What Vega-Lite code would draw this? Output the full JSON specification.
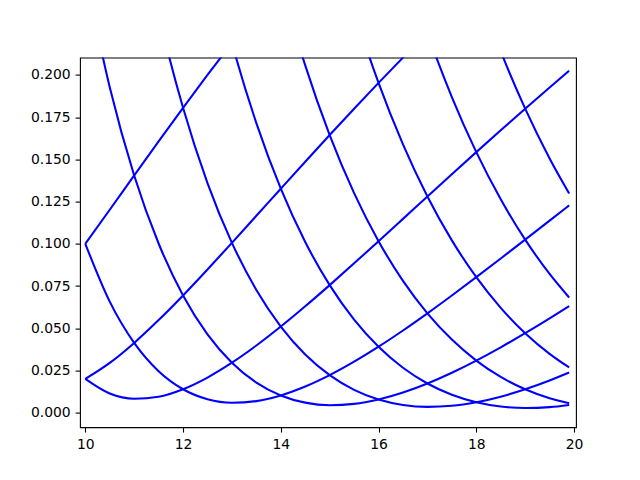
{
  "$schema": "https://vega.github.io/schema/vega-lite/v6.json",
  "width": 496,
  "height": 369.6,
  "autosize": {"type": "none"},
  "padding": {"left": 80, "top": 57.6, "right": 64, "bottom": 52.8},
  "background": "white",
  "config": {
    "view": {"stroke": "black", "strokeWidth": 1.1},
    "axis": {
      "domain": false,
      "grid": false,
      "ticks": true,
      "tickColor": "black",
      "tickSize": 4.9,
      "tickWidth": 1.1,
      "labelFont": "DejaVu Sans",
      "labelFontSize": 13.9,
      "labelColor": "black",
      "labelPadding": 4.9,
      "title": null
    }
  },
  "data": {
    "values": [
      {"c": 7, "x": 10, "y": 0.1}, {"c": 7, "x": 10.5, "y": 0.12018}, {"c": 7, "x": 11, "y": 0.1405}, {"c": 7, "x": 11.5, "y": 0.16068}, {"c": 7, "x": 12, "y": 0.18056}, {"c": 7, "x": 12.5, "y": 0.2}, {"c": 7, "x": 13, "y": 0.21893}, {"c": 7, "x": 13.5, "y": 0.23731},
      {"c": 9, "x": 10, "y": 0.02}, {"c": 9, "x": 10.5, "y": 0.02948}, {"c": 9, "x": 11, "y": 0.04132}, {"c": 9, "x": 11.5, "y": 0.05482}, {"c": 9, "x": 12, "y": 0.06944}, {"c": 9, "x": 12.5, "y": 0.0848}, {"c": 9, "x": 13, "y": 0.10059}, {"c": 9, "x": 13.5, "y": 0.1166}, {"c": 9, "x": 14, "y": 0.13265}, {"c": 9, "x": 14.5, "y": 0.14863}, {"c": 9, "x": 15, "y": 0.16444}, {"c": 9, "x": 15.5, "y": 0.18002}, {"c": 9, "x": 16, "y": 0.19531}, {"c": 9, "x": 16.5, "y": 0.21028}, {"c": 9, "x": 17, "y": 0.22491},
      {"c": 11, "x": 10, "y": 0.02}, {"c": 11, "x": 10.5, "y": 0.01134}, {"c": 11, "x": 11, "y": 0.00826}, {"c": 11, "x": 11.5, "y": 0.00945}, {"c": 11, "x": 12, "y": 0.01389}, {"c": 11, "x": 12.5, "y": 0.0208}, {"c": 11, "x": 13, "y": 0.02959}, {"c": 11, "x": 13.5, "y": 0.03978}, {"c": 11, "x": 14, "y": 0.05102}, {"c": 11, "x": 14.5, "y": 0.06302}, {"c": 11, "x": 15, "y": 0.07556}, {"c": 11, "x": 15.5, "y": 0.08845}, {"c": 11, "x": 16, "y": 0.10156}, {"c": 11, "x": 16.5, "y": 0.11478}, {"c": 11, "x": 17, "y": 0.12803}, {"c": 11, "x": 17.5, "y": 0.14122}, {"c": 11, "x": 18, "y": 0.15432}, {"c": 11, "x": 18.5, "y": 0.16728}, {"c": 11, "x": 19, "y": 0.18006}, {"c": 11, "x": 19.5, "y": 0.19264}, {"c": 11, "x": 19.9, "y": 0.20255},
      {"c": 13, "x": 10, "y": 0.1}, {"c": 13, "x": 10.5, "y": 0.06576}, {"c": 13, "x": 11, "y": 0.04132}, {"c": 13, "x": 11.5, "y": 0.02457}, {"c": 13, "x": 12, "y": 0.01389}, {"c": 13, "x": 12.5, "y": 0.008}, {"c": 13, "x": 13, "y": 0.00592}, {"c": 13, "x": 13.5, "y": 0.00686}, {"c": 13, "x": 14, "y": 0.0102}, {"c": 13, "x": 14.5, "y": 0.01546}, {"c": 13, "x": 15, "y": 0.02222}, {"c": 13, "x": 15.5, "y": 0.03018}, {"c": 13, "x": 16, "y": 0.03906}, {"c": 13, "x": 16.5, "y": 0.04867}, {"c": 13, "x": 17, "y": 0.05882}, {"c": 13, "x": 17.5, "y": 0.06939}, {"c": 13, "x": 18, "y": 0.08025}, {"c": 13, "x": 18.5, "y": 0.09131}, {"c": 13, "x": 19, "y": 0.10249}, {"c": 13, "x": 19.5, "y": 0.11374}, {"c": 13, "x": 19.9, "y": 0.12275},
      {"c": 15, "x": 10, "y": 0.26}, {"c": 15, "x": 10.5, "y": 0.19274}, {"c": 15, "x": 11, "y": 0.1405}, {"c": 15, "x": 11.5, "y": 0.10019}, {"c": 15, "x": 12, "y": 0.06944}, {"c": 15, "x": 12.5, "y": 0.0464}, {"c": 15, "x": 13, "y": 0.02959}, {"c": 15, "x": 13.5, "y": 0.01783}, {"c": 15, "x": 14, "y": 0.0102}, {"c": 15, "x": 14.5, "y": 0.00595}, {"c": 15, "x": 15, "y": 0.00444}, {"c": 15, "x": 15.5, "y": 0.0052}, {"c": 15, "x": 16, "y": 0.00781}, {"c": 15, "x": 16.5, "y": 0.01194}, {"c": 15, "x": 17, "y": 0.0173}, {"c": 15, "x": 17.5, "y": 0.02367}, {"c": 15, "x": 18, "y": 0.03086}, {"c": 15, "x": 18.5, "y": 0.03871}, {"c": 15, "x": 19, "y": 0.04709}, {"c": 15, "x": 19.5, "y": 0.05588}, {"c": 15, "x": 19.9, "y": 0.06316},
      {"c": 17, "x": 11, "y": 0.30579}, {"c": 17, "x": 11.5, "y": 0.23629}, {"c": 17, "x": 12, "y": 0.18056}, {"c": 17, "x": 12.5, "y": 0.136}, {"c": 17, "x": 13, "y": 0.10059}, {"c": 17, "x": 13.5, "y": 0.0727}, {"c": 17, "x": 14, "y": 0.05102}, {"c": 17, "x": 14.5, "y": 0.03448}, {"c": 17, "x": 15, "y": 0.02222}, {"c": 17, "x": 15.5, "y": 0.01353}, {"c": 17, "x": 16, "y": 0.00781}, {"c": 17, "x": 16.5, "y": 0.00459}, {"c": 17, "x": 17, "y": 0.00346}, {"c": 17, "x": 17.5, "y": 0.00408}, {"c": 17, "x": 18, "y": 0.00617}, {"c": 17, "x": 18.5, "y": 0.0095}, {"c": 17, "x": 19, "y": 0.01385}, {"c": 17, "x": 19.5, "y": 0.01907}, {"c": 17, "x": 19.9, "y": 0.02376},
      {"c": 19, "x": 12, "y": 0.34722}, {"c": 19, "x": 12.5, "y": 0.2768}, {"c": 19, "x": 13, "y": 0.21893}, {"c": 19, "x": 13.5, "y": 0.17147}, {"c": 19, "x": 14, "y": 0.13265}, {"c": 19, "x": 14.5, "y": 0.10107}, {"c": 19, "x": 15, "y": 0.07556}, {"c": 19, "x": 15.5, "y": 0.05515}, {"c": 19, "x": 16, "y": 0.03906}, {"c": 19, "x": 16.5, "y": 0.02663}, {"c": 19, "x": 17, "y": 0.0173}, {"c": 19, "x": 17.5, "y": 0.01061}, {"c": 19, "x": 18, "y": 0.00617}, {"c": 19, "x": 18.5, "y": 0.00365}, {"c": 19, "x": 19, "y": 0.00277}, {"c": 19, "x": 19.5, "y": 0.00329}, {"c": 19, "x": 19.9, "y": 0.00457},
      {"c": 21, "x": 13, "y": 0.38462}, {"c": 21, "x": 13.5, "y": 0.31413}, {"c": 21, "x": 14, "y": 0.2551}, {"c": 21, "x": 14.5, "y": 0.20571}, {"c": 21, "x": 15, "y": 0.16444}, {"c": 21, "x": 15.5, "y": 0.13007}, {"c": 21, "x": 16, "y": 0.10156}, {"c": 21, "x": 16.5, "y": 0.07805}, {"c": 21, "x": 17, "y": 0.05882}, {"c": 21, "x": 17.5, "y": 0.04327}, {"c": 21, "x": 18, "y": 0.03086}, {"c": 21, "x": 18.5, "y": 0.02118}, {"c": 21, "x": 19, "y": 0.01385}, {"c": 21, "x": 19.5, "y": 0.00855}, {"c": 21, "x": 19.9, "y": 0.00558},
      {"c": 23, "x": 14.5, "y": 0.34839}, {"c": 23, "x": 15, "y": 0.28889}, {"c": 23, "x": 15.5, "y": 0.23829}, {"c": 23, "x": 16, "y": 0.19531}, {"c": 23, "x": 16.5, "y": 0.15886}, {"c": 23, "x": 17, "y": 0.12803}, {"c": 23, "x": 17.5, "y": 0.10204}, {"c": 23, "x": 18, "y": 0.08025}, {"c": 23, "x": 18.5, "y": 0.06209}, {"c": 23, "x": 19, "y": 0.04709}, {"c": 23, "x": 19.5, "y": 0.03485}, {"c": 23, "x": 19.9, "y": 0.02679},
      {"c": 25, "x": 16, "y": 0.32031}, {"c": 25, "x": 16.5, "y": 0.26905}, {"c": 25, "x": 17, "y": 0.22491}, {"c": 25, "x": 17.5, "y": 0.18694}, {"c": 25, "x": 18, "y": 0.15432}, {"c": 25, "x": 18.5, "y": 0.12637}, {"c": 25, "x": 19, "y": 0.10249}, {"c": 25, "x": 19.5, "y": 0.08218}, {"c": 25, "x": 19.9, "y": 0.06821},
      {"c": 27, "x": 17, "y": 0.34948}, {"c": 27, "x": 17.5, "y": 0.29796}, {"c": 27, "x": 18, "y": 0.25309}, {"c": 27, "x": 18.5, "y": 0.21403}, {"c": 27, "x": 19, "y": 0.18006}, {"c": 27, "x": 19.5, "y": 0.15056}, {"c": 27, "x": 19.9, "y": 0.12982}
    ]
  },
  "mark": {"type": "line", "color": "#0000ff", "strokeWidth": 2.08, "interpolate": "monotone", "clip": true},
  "encoding": {
    "x": {
      "field": "x",
      "type": "quantitative",
      "scale": {"domain": [9.8915, 20.04], "nice": false, "zero": false},
      "axis": {"values": [10, 12, 14, 16, 18, 20], "format": "d"}
    },
    "y": {
      "field": "y",
      "type": "quantitative",
      "scale": {"domain": [-0.0086, 0.2103], "nice": false, "zero": false},
      "axis": {"values": [0, 0.025, 0.05, 0.075, 0.1, 0.125, 0.15, 0.175, 0.2], "format": ".3f"}
    },
    "detail": {"field": "c", "type": "nominal"}
  }
}
